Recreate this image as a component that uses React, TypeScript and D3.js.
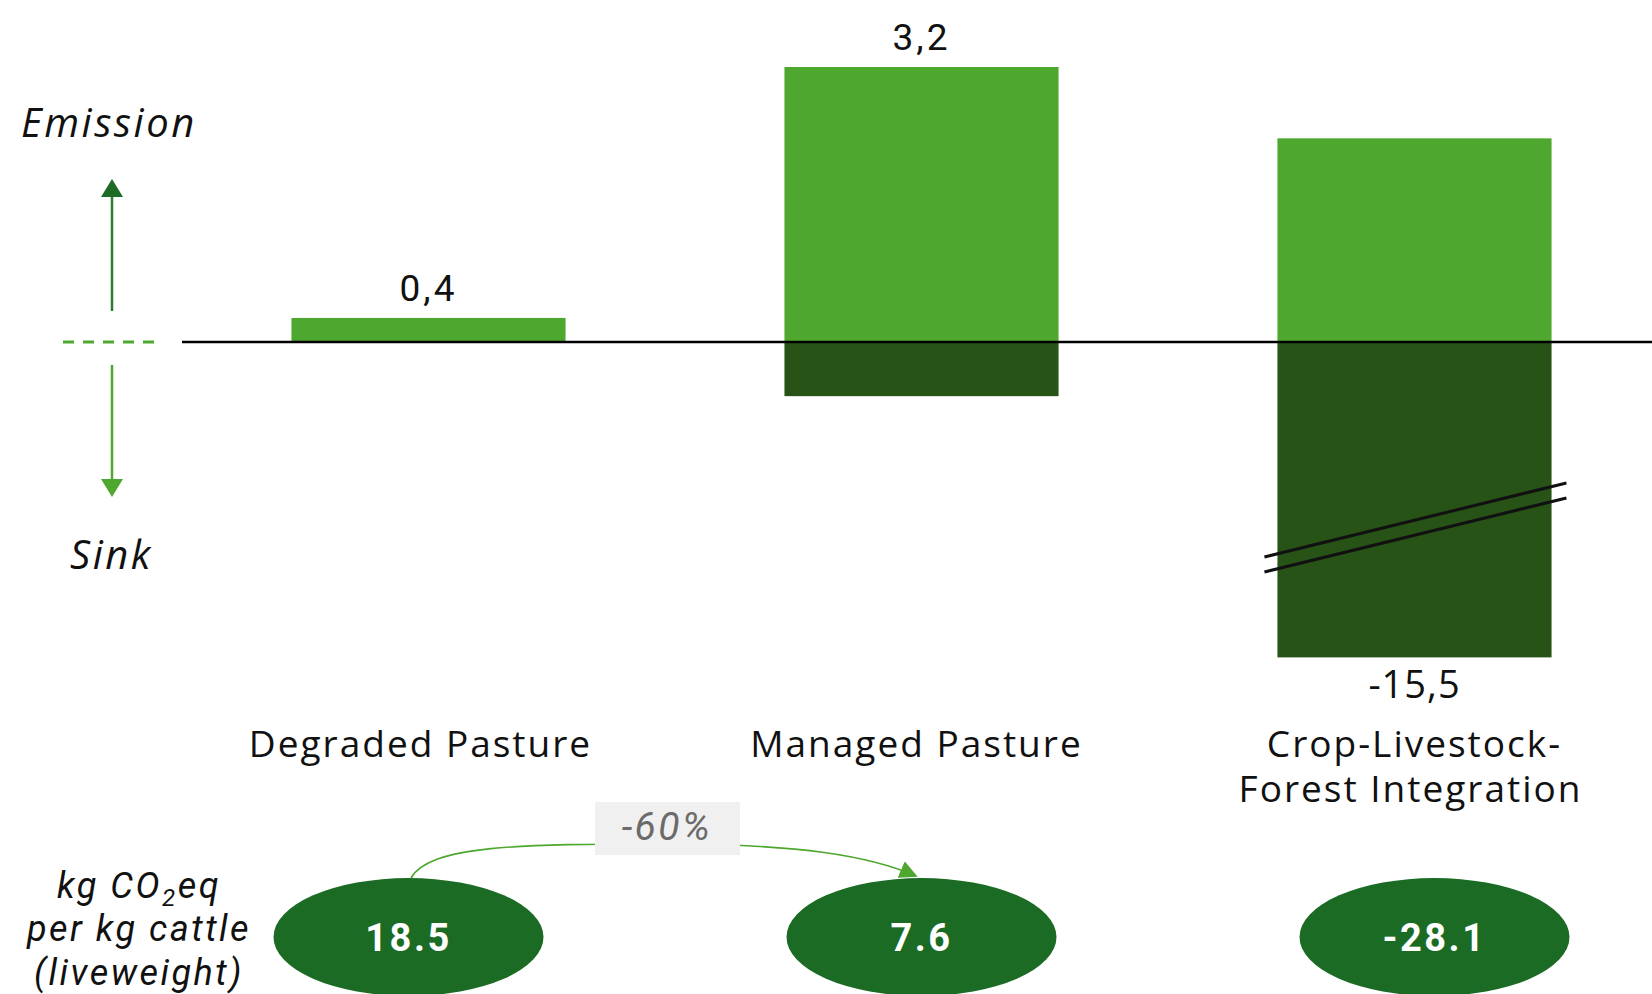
import React, { useEffect, useRef } from "react";
import * as d3 from "d3";

const categories = ["Degraded Pasture", "Managed Pasture", "Crop-Livestock-Forest Integration"];
const categoryLines = [["Degraded Pasture"], ["Managed Pasture"], ["Crop-Livestock-", "Forest Integration"]];
// emission (positive) part of each bar, as drawn
const emission = [0.28, 3.2, 2.37];
// sink (negative) part of each bar, as drawn (third bar uses a broken axis)
const sink = [0, -0.63, -3.67];
const valueLabels = ["0,4", "3,2", "-15,5"];
const labelOnTop = [true, true, false];
const perKgValues = ["18.5", "7.6", "-28.1"];
const changeLabel = "-60%";

const W = 1652;
const H = 994;
const LIGHT = "#4EA72E";
const DARK = "#275317";
const ELL = "#1B6B24";
const NARROW = "Roboto, 'Liberation Sans', sans-serif";
const MAIN = "'Open Sans', Lato, sans-serif";

export default function App() {
  const ref = useRef<SVGSVGElement>(null);
  useEffect(() => {
    const svg = d3.select(ref.current);
    svg.selectAll("*").remove();

    const x = d3.scaleBand<string>().domain(categories).range([182, 1661]).paddingInner(0.444).paddingOuter(0.222);
    const y = d3.scaleLinear().domain([0, 3.2]).range([342, 67]);

    const defs = svg.append("defs");
    defs.append("marker").attr("id", "arrowHead").attr("viewBox", "0 0 10 10").attr("refX", 9).attr("refY", 5)
      .attr("markerWidth", 18).attr("markerHeight", 18).attr("markerUnits", "userSpaceOnUse").attr("orient", "auto")
      .append("path").attr("d", "M0,0 L10,5 L0,10 Z").attr("fill", LIGHT);

    // bars
    const g = svg.append("g");
    categories.forEach((c, i) => {
      const bx = x(c)!;
      const bw = x.bandwidth();
      g.append("rect").attr("x", bx).attr("y", y(emission[i])).attr("width", bw)
        .attr("height", y(0) - y(emission[i])).attr("fill", LIGHT);
      if (sink[i] < 0) {
        g.append("rect").attr("x", bx).attr("y", y(0)).attr("width", bw)
          .attr("height", y(sink[i]) - y(0)).attr("fill", DARK);
      }
      const cx = bx + bw / 2;
      if (labelOnTop[i]) {
        g.append("text").attr("x", cx).attr("y", y(emission[i]) - 17).attr("text-anchor", "middle")
          .attr("font-family", NARROW).attr("font-size", 37).attr("letter-spacing", 3).attr("fill", "#111").text(valueLabels[i]);
      } else {
        g.append("text").attr("x", cx).attr("y", y(sink[i]) + 41).attr("text-anchor", "middle")
          .attr("font-family", MAIN).attr("font-size", 38).attr("letter-spacing", 1).attr("fill", "#111").text(valueLabels[i]);
      }
      // category labels
      const t = g.append("text").attr("text-anchor", "middle").attr("font-family", MAIN)
        .attr("font-size", 37).attr("letter-spacing", 2).attr("fill", "#111");
      categoryLines[i].forEach((line, k) => {
        t.append("tspan").attr("x", cx - (k === 1 ? 4 : 0) - (i === 0 ? 8 : i === 1 ? 5 : 0)).attr("y", 757 + k * 45).text(line);
      });
      // ellipse
      const ex = cx - (i === 0 ? 20 : i === 2 ? -20 : 0);
      g.append("ellipse").attr("cx", ex).attr("cy", 937).attr("rx", 135).attr("ry", 59).attr("fill", ELL);
      g.append("text").attr("x", ex).attr("y", 951).attr("text-anchor", "middle").attr("font-family", NARROW)
        .attr("font-weight", "bold").attr("font-size", 38).attr("letter-spacing", 2.5).attr("fill", "#fff").text(perKgValues[i]);
    });

    // axis break marks on third bar
    const b3 = x(categories[2])!;
    [0, 15].forEach((dy) => {
      svg.append("line").attr("x1", b3 - 13).attr("y1", 557 + dy).attr("x2", b3 + 289).attr("y2", 483 + dy)
        .attr("stroke", "#111").attr("stroke-width", 3);
    });

    // zero line
    svg.append("line").attr("x1", 182).attr("x2", W).attr("y1", y(0)).attr("y2", y(0))
      .attr("stroke", "#000").attr("stroke-width", 2.5);
    svg.append("line").attr("x1", 63).attr("x2", 158).attr("y1", y(0)).attr("y2", y(0))
      .attr("stroke", LIGHT).attr("stroke-width", 3).attr("stroke-dasharray", "11 9");

    // emission / sink arrows
    svg.append("line").attr("x1", 112).attr("x2", 112).attr("y1", 311).attr("y2", 196).attr("stroke", "#2F7D33").attr("stroke-width", 2.5);
    svg.append("path").attr("d", "M101,197 L112,179 L123,197 Z").attr("fill", "#1E6B26");
    svg.append("line").attr("x1", 112).attr("x2", 112).attr("y1", 365).attr("y2", 480).attr("stroke", LIGHT).attr("stroke-width", 2.5);
    svg.append("path").attr("d", "M101,479 L112,497 L123,479 Z").attr("fill", LIGHT);
    svg.append("text").attr("x", 21).attr("y", 137).attr("font-family", MAIN).attr("font-style", "italic")
      .attr("font-size", 40).attr("letter-spacing", 2.5).attr("fill", "#111").text("Emission");
    svg.append("text").attr("x", 70).attr("y", 569).attr("font-family", MAIN).attr("font-style", "italic")
      .attr("font-size", 40).attr("letter-spacing", 2.5).attr("fill", "#111").text("Sink");

    // left label
    const ll = svg.append("text").attr("text-anchor", "middle").attr("font-family", NARROW).attr("font-style", "italic")
      .attr("font-size", 36).attr("letter-spacing", 2.5).attr("fill", "#111");
    const l1 = ll.append("tspan").attr("x", 139).attr("y", 898);
    l1.append("tspan").text("kg CO");
    l1.append("tspan").attr("font-size", 24).attr("dy", 8).text("2");
    l1.append("tspan").attr("dy", -8).text("eq");
    ll.append("tspan").attr("x", 139).attr("y", 941).text("per kg cattle");
    ll.append("tspan").attr("x", 139).attr("y", 985).text("(liveweight)");

    // change arrow
    svg.append("path").attr("d", "M411,878 C430,845 520,844 667,844 C800,844 870,856 916,876")
      .attr("fill", "none").attr("stroke", LIGHT).attr("stroke-width", 1.6).attr("marker-end", "url(#arrowHead)");
    svg.append("rect").attr("x", 595).attr("y", 802).attr("width", 145).attr("height", 53).attr("fill", "#F0F0F0");
    svg.append("text").attr("x", 667).attr("y", 840).attr("text-anchor", "middle").attr("font-family", NARROW)
      .attr("font-style", "italic").attr("font-size", 39).attr("letter-spacing", 2.5).attr("fill", "#6b6b6b").text(changeLabel);
  }, []);
  return (
    <svg ref={ref} width={W} height={H} style={{ position: "absolute", left: 0, top: 0, background: "#fff" }} />
  );
}
